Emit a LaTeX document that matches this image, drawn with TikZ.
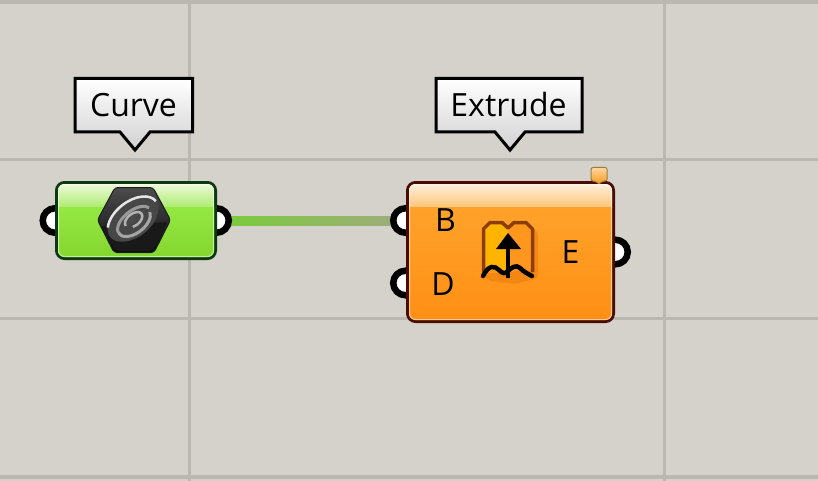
\documentclass[tikz,border=0pt]{standalone}
\usepackage{fontspec}
\setmainfont{Open Sans}
\usetikzlibrary{calc}
\definecolor{canvasbg}{HTML}{D4D2CA}
\definecolor{gridline}{HTML}{BAB8B0}
\definecolor{greenedge}{HTML}{0C3A10}
\definecolor{orangeedge}{HTML}{4A0C02}
\definecolor{wirea}{RGB}{122,204,56}
\definecolor{wireb}{RGB}{160,172,128}
\definecolor{gmid}{RGB}{146,230,63}
\definecolor{ghia}{RGB}{238,250,220}
\definecolor{ghib}{RGB}{172,235,110}
\definecolor{gloa}{RGB}{148,232,66}
\definecolor{glob}{RGB}{132,214,46}
\definecolor{omid}{RGB}{255,156,36}
\definecolor{ohia}{RGB}{255,240,222}
\definecolor{ohib}{RGB}{255,196,120}
\definecolor{oloa}{RGB}{255,162,42}
\definecolor{olob}{RGB}{255,143,20}
\definecolor{bookl}{RGB}{255,180,0}
\definecolor{bookr}{RGB}{255,150,30}
\definecolor{bookedge}{RGB}{140,62,0}
\definecolor{bookhalo}{RGB}{235,125,15}
\definecolor{tagedge}{RGB}{150,130,60}
\definecolor{taga}{RGB}{255,215,160}
\definecolor{tagb}{RGB}{255,150,20}
\tikzset{
  gridrule/.style={draw=gridline,line width=3pt},
  tiptext/.style={font=\fontsize{32}{34}\selectfont,text=black,inner sep=0pt,anchor=center},
  portlabel/.style={font=\fontsize{32}{34}\selectfont,text=black,inner sep=0pt,anchor=center},
  tipshape/.style={draw=black,line width=3pt,line join=miter,top color=white,bottom color=white!82!black},
  portring/.style={circle,draw=black,line width=6.5pt,fill=white,minimum size=24.5pt,inner sep=0pt,outer sep=0pt},
  compbody/.style={rectangle,rounded corners=8pt,line width=3pt,inner sep=0pt,outer sep=0pt,anchor=north west},
}
\begin{document}
\begin{tikzpicture}[x=1pt,y=-1pt]
\useasboundingbox (0,0) rectangle (818,481);
\fill[canvasbg] (0,0) rectangle (818,481);
% grid
\draw[gridrule] (0,160) -- (818,160);
\draw[gridrule] (0,318) -- (818,318);
\draw[gridrule,line width=4pt] (0,2) -- (818,2);
\draw[gridrule,line width=4pt] (0,477) -- (818,477);
\draw[gridrule] (189,0) -- (189,481);
\draw[gridrule] (664,0) -- (664,481);
% wire
\coordinate (wa) at (216.5,220.5);
\coordinate (wb) at (405.5,220.5);
\draw[line width=9pt,draw=wireb] (wa) -- (wb);
\shade[left color=wirea,right color=wireb] ($(wa)+(0,-4.5)$) rectangle ($(wb)+(0,4.5)$);
% ports
\node[portring] (cin) at (55,220.5) {};
\node[portring] (cout) at (wa) {};
\node[portring] (bin) at (wb) {};
\node[portring] (din) at (405.5,283) {};
\node[portring] (eout) at (615.5,252) {};
% Curve body
\node[compbody,draw=greenedge,fill=gmid,minimum width=159pt,minimum height=76pt] (curve) at (56.5,182.5) {};
\begin{scope}
  \clip[rounded corners=6.5pt] ($(curve.north west)+(1.5,1.5)$) rectangle ($(curve.south east)+(-1.5,-1.5)$);
  \shade[top color=ghia,bottom color=ghib] ($(curve.north west)+(0,1)$) rectangle ($(curve.north east)+(0,25)$);
  \shade[top color=gloa,bottom color=glob] ($(curve.north west)+(0,25)$) rectangle (curve.south east);
\end{scope}
\draw[white,opacity=.55,line width=1pt,rounded corners=6pt] ($(curve.north west)+(2,2)$) rectangle ($(curve.south east)+(-2,-2)$);
% Curve icon
\shade[top color=black!70,bottom color=black!95,draw=black!90,line width=1pt,rounded corners=3pt]
  (97.5,220) -- (115,187.5) -- (153,187.5) -- (170.5,220) -- (154,252.5) -- (114,252.5) -- cycle;
\fill[black!90,rounded corners=3pt] (100,226) -- (168,222) -- (152,251) -- (116,251) -- cycle;
\begin{scope}[shift={(133,219)},rotate=38]
  \fill[black!72] (0,0) ellipse [x radius=29pt,y radius=18pt];
  \draw[black!10,line width=2.5pt] (29,0) arc[start angle=0,end angle=150,x radius=29pt,y radius=17.5pt];
  \draw[black!40,line width=3pt] (-20,2) arc[start angle=175,end angle=10,x radius=20pt,y radius=11pt];
  \draw[black!35,line width=3pt] (-20,2) arc[start angle=175,end angle=350,x radius=19pt,y radius=11pt];
  \draw[black!30,line width=2.5pt] (-10,1) arc[start angle=180,end angle=-120,x radius=10pt,y radius=6pt];
  \fill[black!70] (-1,0) ellipse [x radius=4pt,y radius=2.5pt];
\end{scope}
% Extrude body
\node[compbody,draw=orangeedge,fill=omid,minimum width=206pt,minimum height=139pt] (extrude) at (407.5,182.5) {};
\begin{scope}
  \clip[rounded corners=6.5pt] ($(extrude.north west)+(1.5,1.5)$) rectangle ($(extrude.south east)+(-1.5,-1.5)$);
  \shade[top color=ohia,bottom color=ohib] ($(extrude.north west)+(0,1)$) rectangle ($(extrude.north east)+(0,25)$);
  \shade[top color=oloa,bottom color=olob] ($(extrude.north west)+(0,25)$) rectangle (extrude.south east);
\end{scope}
\draw[white,opacity=.55,line width=1pt,rounded corners=6pt] ($(extrude.north west)+(2,2)$) rectangle ($(extrude.south east)+(-2,-2)$);
% Extrude icon
\fill[bookhalo,opacity=.6,rounded corners=3pt] (530,226) -- (538,232) -- (538,278) -- (515,284) -- (490,281) -- (482,274) -- (530,270) -- cycle;
\fill[bookl] (484,229) -- (490,223) -- (502,223) -- (508,228) -- (508,270) -- (484,270) -- cycle;
\fill[bookr] (508,228) -- (514,223) -- (526,223) -- (532,229) -- (532,270) -- (508,270) -- cycle;
\draw[bookedge,line width=3.5pt,line join=round] (483.5,272) -- (483.5,229) -- (490,222.5) -- (502,222.5) -- (508,228) -- (514,222.5) -- (526,222.5) -- (532.5,229) -- (532.5,272);
\draw[black,line width=4.5pt,line cap=round] (483,276) .. controls (489,264) and (495,266) .. (499,270) .. controls (503,274) and (505,274) .. (508,271) .. controls (511,268) and (516,264) .. (520,268) .. controls (524,272) and (528,274) .. (532,276);
\draw[black,line width=4.5pt] (508,246) -- (508,278);
\fill[black] (508,233) -- (521,249) -- (496,249) -- cycle;
% small tag
\path[draw=tagedge,line width=1pt,rounded corners=2pt,top color=taga,bottom color=tagb]
  (591,167.5) -- (607,167.5) -- (607,181) -- (602,181) -- (599,184.5) -- (596,181) -- (591,181) -- cycle;
% labels on body
\node[portlabel] (lb) at (445.5,220) {B};
\node[portlabel] (ld) at (443,284) {D};
\node[portlabel] (le) at (570.5,252) {E};
% tooltips
\path[tipshape] (75,78.5) -- (192.5,78.5) -- (192.5,132) -- (150,132) -- (135,150) -- (120,132) -- (75,132) -- cycle;
\node[tiptext] (curvetip) at (133.5,105) {Curve};
\path[tipshape] (436,78.5) -- (582,78.5) -- (582,132) -- (525,132) -- (510,150) -- (495,132) -- (436,132) -- cycle;
\node[tiptext] (extrudetip) at (508.5,105) {Extrude};
\end{tikzpicture}
\end{document}
